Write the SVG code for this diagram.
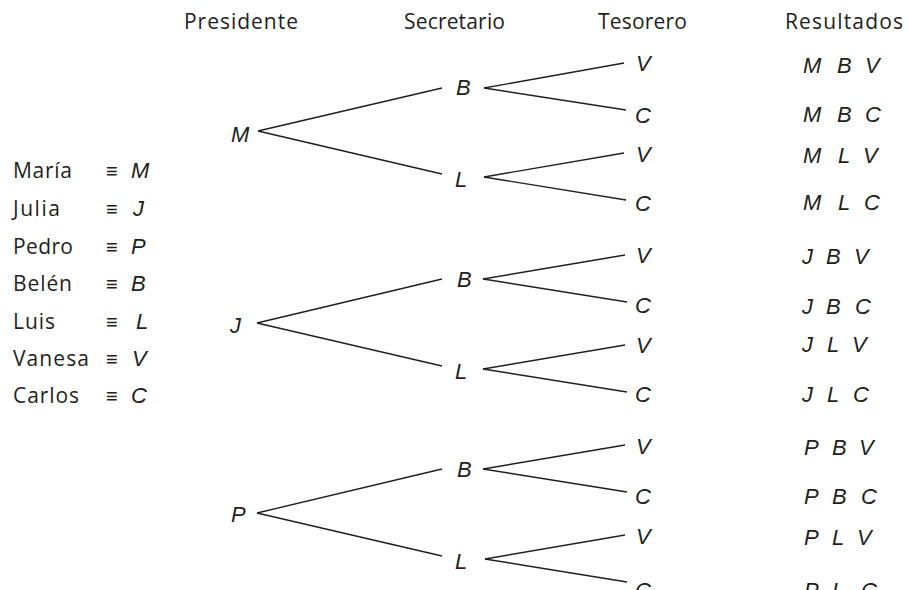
<svg xmlns="http://www.w3.org/2000/svg" width="908" height="590" viewBox="0 0 908 590">
<style>
text{font-family:"Open Sans","Liberation Sans",Arial,sans-serif;font-size:21px;fill:#231f20}
.i{font-family:"Liberation Sans",Arial,sans-serif;font-style:italic;font-size:22px}
.eq{font-family:"Liberation Sans",Arial,sans-serif;font-size:20px}
.ln line{stroke:#231f20;stroke-width:1.4;fill:none}
</style>
<rect width="908" height="590" fill="#fff"/>
<g id="headers">
<text x="184" y="29" textLength="114" lengthAdjust="spacing">Presidente</text>
<text x="404" y="29" textLength="101" lengthAdjust="spacing">Secretario</text>
<text x="598" y="29" textLength="89" lengthAdjust="spacing">Tesorero</text>
<text x="785" y="29" textLength="118" lengthAdjust="spacing">Resultados</text>
</g>
<g id="legend">
<text x="13" y="178" textLength="59" lengthAdjust="spacing">María</text><text class="eq" x="106" y="178">≡</text><text class="i" x="131" y="178">M</text>
<text x="13" y="216" textLength="47" lengthAdjust="spacing">Julia</text><text class="eq" x="106" y="216">≡</text><text class="i" x="133" y="216">J</text>
<text x="13" y="254" textLength="60" lengthAdjust="spacing">Pedro</text><text class="eq" x="106" y="254">≡</text><text class="i" x="131" y="254">P</text>
<text x="13" y="291" textLength="59" lengthAdjust="spacing">Belén</text><text class="eq" x="106" y="291">≡</text><text class="i" x="131" y="291">B</text>
<text x="13" y="329" textLength="42" lengthAdjust="spacing">Luis</text><text class="eq" x="106" y="329">≡</text><text class="i" x="136" y="329">L</text>
<text x="13" y="366" textLength="76" lengthAdjust="spacing">Vanesa</text><text class="eq" x="106" y="366">≡</text><text class="i" x="132" y="366">V</text>
<text x="13" y="403" textLength="66" lengthAdjust="spacing">Carlos</text><text class="eq" x="106" y="403">≡</text><text class="i" x="131" y="403">C</text>
</g>
<g id="connectors" class="ln">
<line x1="258" y1="131" x2="442" y2="88"/><line x1="258" y1="131" x2="442" y2="174"/>
<line x1="484" y1="88" x2="624" y2="63"/><line x1="484" y1="88" x2="626" y2="110"/>
<line x1="484" y1="177" x2="624" y2="153"/><line x1="484" y1="177" x2="626" y2="200"/>
<line x1="257" y1="323" x2="442" y2="279"/><line x1="257" y1="323" x2="442" y2="366"/>
<line x1="483" y1="279" x2="625" y2="255"/><line x1="483" y1="279" x2="627" y2="302"/>
<line x1="483" y1="369" x2="625" y2="345"/><line x1="483" y1="369" x2="627" y2="392"/>
<line x1="257" y1="513" x2="442" y2="469"/><line x1="257" y1="513" x2="442" y2="556"/>
<line x1="483" y1="469" x2="625" y2="445"/><line x1="483" y1="469" x2="627" y2="492"/>
<line x1="485" y1="559" x2="625" y2="535"/><line x1="485" y1="559" x2="627" y2="582"/>
</g>
<g id="node-M"><text class="i" x="231" y="142">M</text></g>
<g id="node-J"><text class="i" x="230" y="333">J</text></g>
<g id="node-P"><text class="i" x="231" y="522">P</text></g>
<g id="node-MB"><text class="i" x="456" y="95">B</text></g>
<g id="node-ML"><text class="i" x="455" y="187">L</text></g>
<g id="node-JB"><text class="i" x="457" y="287">B</text></g>
<g id="node-JL"><text class="i" x="455" y="379">L</text></g>
<g id="node-PB"><text class="i" x="457" y="477">B</text></g>
<g id="node-PL"><text class="i" x="455" y="569">L</text></g>
<g id="node-MBV"><text class="i" x="636" y="71">V</text></g>
<g id="node-MBC"><text class="i" x="635" y="123">C</text></g>
<g id="node-MLV"><text class="i" x="636" y="162">V</text></g>
<g id="node-MLC"><text class="i" x="635" y="211">C</text></g>
<g id="node-JBV"><text class="i" x="636" y="263">V</text></g>
<g id="node-JBC"><text class="i" x="635" y="313">C</text></g>
<g id="node-JLV"><text class="i" x="636" y="353">V</text></g>
<g id="node-JLC"><text class="i" x="635" y="402">C</text></g>
<g id="node-PBV"><text class="i" x="636" y="454">V</text></g>
<g id="node-PBC"><text class="i" x="635" y="504">C</text></g>
<g id="node-PLV"><text class="i" x="636" y="544">V</text></g>
<g id="node-PLC"><text class="i" x="635" y="598">C</text></g>
<g id="results">
<text class="i" y="73"><tspan x="803">M</tspan><tspan x="837">B</tspan><tspan x="865">V</tspan></text>
<text class="i" y="122"><tspan x="803">M</tspan><tspan x="837">B</tspan><tspan x="865">C</tspan></text>
<text class="i" y="163"><tspan x="803">M</tspan><tspan x="838">L</tspan><tspan x="863">V</tspan></text>
<text class="i" y="210"><tspan x="803">M</tspan><tspan x="838">L</tspan><tspan x="864">C</tspan></text>
<text class="i" y="264"><tspan x="802">J</tspan><tspan x="826">B</tspan><tspan x="854">V</tspan></text>
<text class="i" y="314"><tspan x="802">J</tspan><tspan x="826">B</tspan><tspan x="855">C</tspan></text>
<text class="i" y="352"><tspan x="802">J</tspan><tspan x="827">L</tspan><tspan x="852">V</tspan></text>
<text class="i" y="402"><tspan x="802">J</tspan><tspan x="827">L</tspan><tspan x="853">C</tspan></text>
<text class="i" y="455"><tspan x="804">P</tspan><tspan x="832">B</tspan><tspan x="859">V</tspan></text>
<text class="i" y="504"><tspan x="804">P</tspan><tspan x="832">B</tspan><tspan x="861">C</tspan></text>
<text class="i" y="545"><tspan x="804">P</tspan><tspan x="832">L</tspan><tspan x="857">V</tspan></text>
<text class="i" y="598"><tspan x="804">P</tspan><tspan x="832">L</tspan><tspan x="861">C</tspan></text>
</g>
</svg>
